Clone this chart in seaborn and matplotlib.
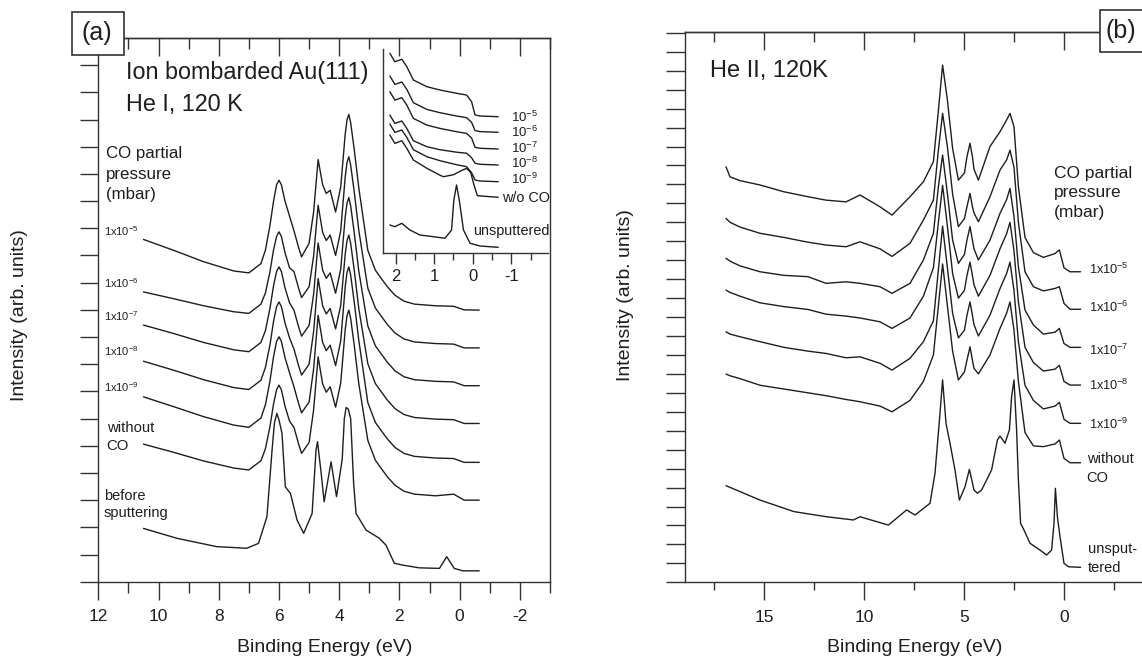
import matplotlib
matplotlib.use("Agg")
import matplotlib.pyplot as plt
import seaborn as sns
from matplotlib.patches import Rectangle
from matplotlib.ticker import MultipleLocator

# ---------------- panel (a): He I, ion bombarded Au(111) ----------------
be_a = [10.5, 9.5, 8.5, 7.5, 7.0, 6.6, 6.45, 6.3, 6.18, 6.08, 6.0, 5.92, 5.8, 5.65, 5.5, 5.35, 5.25, 5.0,
        4.85, 4.7, 4.55, 4.43, 4.3, 4.12, 3.95, 3.8, 3.74, 3.68, 3.62, 3.5, 3.35, 3.05, 2.8, 2.6, 2.4, 2.15,
        1.85, 1.5, 0.8, 0.2, -0.15, -0.65]
a_1e5 = [12.59, 12.19, 11.77, 11.43, 11.36, 11.70, 12.20, 13.10, 14.00, 14.60, 14.77, 14.60, 14.00, 13.45,
         12.90, 12.30, 11.95, 12.45, 13.60, 15.53, 14.60, 14.28, 14.40, 13.60, 14.52, 16.47, 16.99, 17.19,
         16.89, 15.89, 14.49, 12.19, 11.46, 11.15, 10.85, 10.54, 10.32, 10.21, 10.15, 10.13, 10.00, 9.99]
a_1e6 = [10.66, 10.41, 10.15, 9.93, 9.87, 10.21, 10.62, 11.40, 12.21, 12.70, 12.87, 12.70, 12.10, 11.55,
         11.40, 10.80, 10.45, 10.85, 11.98, 13.85, 12.85, 12.55, 12.75, 12.00, 12.91, 14.90, 15.43, 15.63,
         15.33, 14.33, 12.93, 10.80, 10.07, 9.76, 9.46, 9.15, 8.93, 8.82, 8.76, 8.74, 8.60, 8.60]
a_1e7 = [9.44, 9.13, 8.80, 8.53, 8.46, 8.80, 9.24, 10.05, 10.89, 11.41, 11.58, 11.41, 10.81, 10.26,
         9.98, 9.38, 9.03, 9.43, 10.57, 12.46, 11.46, 11.16, 11.36, 10.61, 11.49, 13.43, 13.93, 14.13,
         13.83, 12.83, 11.43, 9.41, 8.68, 8.37, 8.07, 7.76, 7.54, 7.43, 7.37, 7.35, 7.21, 7.21]
a_1e8 = [8.11, 7.78, 7.43, 7.14, 7.07, 7.41, 7.88, 8.71, 9.58, 10.12, 10.29, 10.12, 9.52, 8.97,
         8.55, 7.95, 7.60, 8.00, 9.20, 11.15, 10.15, 9.85, 10.05, 9.30, 10.16, 12.06, 12.55, 12.75,
         12.45, 11.45, 10.05, 8.02, 7.29, 6.98, 6.68, 6.37, 6.15, 6.04, 5.98, 5.96, 5.82, 5.82]
a_1e9 = [6.80, 6.44, 6.07, 5.76, 5.68, 6.02, 6.51, 7.38, 8.28, 8.84, 9.01, 8.84, 8.24, 7.69,
         7.16, 6.56, 6.21, 6.61, 7.83, 9.80, 8.80, 8.50, 8.70, 7.95, 8.86, 10.85, 11.38, 11.58,
         11.28, 10.28, 8.88, 6.59, 5.86, 5.55, 5.25, 4.94, 4.72, 4.61, 4.55, 4.53, 4.39, 4.39]
a_noco = [5.06, 4.76, 4.44, 4.18, 4.11, 4.45, 4.89, 5.70, 6.54, 7.06, 7.23, 7.06, 6.46, 5.91,
          5.67, 5.07, 4.72, 5.12, 6.32, 8.27, 7.27, 6.97, 7.17, 6.42, 7.31, 9.28, 9.79, 9.99,
          9.69, 8.69, 7.29, 5.20, 4.47, 4.16, 3.86, 3.55, 3.33, 3.22, 3.16, 3.22, 3.00, 3.00]
be_a_before = [10.5, 9.4, 8.07, 7.07, 6.68, 6.40, 6.23, 6.15, 6.07, 6.0, 5.90, 5.79, 5.62, 5.40, 5.18, 4.90,
               4.77, 4.72, 4.60, 4.50, 4.27, 4.09, 3.90, 3.83, 3.77, 3.70, 3.62, 3.52, 3.44, 3.11, 2.67,
               2.45, 2.17, 1.89, 1.34, 0.67, 0.43, 0.18, -0.1, -0.65]
a_before = [1.96, 1.60, 1.29, 1.23, 1.41, 2.39, 4.84, 5.85, 6.19, 5.95, 5.46, 3.49, 3.25, 2.27, 1.78, 2.51,
            4.84, 5.15, 4.00, 2.94, 4.41, 3.13, 4.50, 6.00, 6.41, 6.35, 6.00, 3.60, 2.51, 1.90, 1.60,
            1.35, 0.68, 0.61, 0.51, 0.49, 0.92, 0.49, 0.40, 0.40]
a_labels = ["1x10$^{-5}$", "1x10$^{-6}$", "1x10$^{-7}$", "1x10$^{-8}$", "1x10$^{-9}$"]

# inset of panel (a): region near the Fermi level
ins_x = [2.15, 2.02, 1.84, 1.71, 1.54, 1.19, 0.85, 0.42, 0.16, 0.03, -0.06, -0.19, -0.66]
ins_1e5 = [199.4, 191.0, 193.4, 186.0, 172.7, 166.0, 162.7, 159.4, 157.7, 151.0, 137.7, 136.7, 136.0]
ins_1e6 = [176.7, 168.3, 170.7, 163.3, 150.0, 143.3, 140.0, 136.7, 135.0, 130.4, 122.1, 121.1, 120.4]
ins_1e7 = [161.0, 152.6, 155.0, 147.6, 134.3, 127.6, 124.3, 121.0, 119.3, 114.7, 105.4, 104.4, 103.7]
ins_1e8 = [137.7, 129.3, 131.7, 124.3, 112.0, 106.0, 103.0, 100.5, 99.5, 95.0, 89.4, 88.4, 87.7]
ins_1e9 = [128.7, 120.3, 122.7, 115.3, 103.0, 96.0, 92.0, 88.0, 86.0, 80.0, 72.7, 71.7, 71.0]
ins_noco_x = [2.15, 2.02, 1.84, 1.71, 1.54, 1.19, 0.85, 0.76, 0.5, 0.3, 0.16, 0.05, -0.03, -0.12, -0.66]
ins_noco = [117.7, 109.3, 112.0, 104.3, 92.7, 84.4, 77.5, 76.0, 78.0, 82.0, 84.4, 80.0, 68.0, 57.0, 55.4]
ins_unsp_x = [2.15, 2.02, 1.84, 1.63, 1.37, 1.02, 0.72, 0.55, 0.49, 0.42, 0.35, 0.24, 0.07, -0.19, -0.66]
ins_unsp = [27.7, 26.0, 29.4, 22.7, 17.7, 16.0, 14.4, 22.7, 52.7, 67.7, 52.7, 22.7, 9.4, 6.7, 5.4]
ins_labels = ["10$^{-5}$", "10$^{-6}$", "10$^{-7}$", "10$^{-8}$", "10$^{-9}$"]

# ---------------- panel (b): He II, 120K ----------------
be_b = [16.9, 16.7, 16.2, 15.2, 14.0, 12.8, 11.9, 10.9, 10.2, 9.2, 8.6, 7.7, 7.03, 6.53, 6.28, 6.07, 5.83,
        5.57, 5.28, 4.98, 4.85, 4.7, 4.58, 4.5, 4.28, 3.7, 3.2, 2.87, 2.7, 2.5, 2.28, 1.95, 1.53, 1.03, 0.45,
        0.23, 0.0, -0.3, -0.83]
b_1e5 = [21.93, 21.40, 21.20, 20.97, 20.61, 20.35, 20.17, 20.08, 20.44, 19.82, 19.38, 20.35, 21.14, 22.20,
         24.90, 27.30, 25.45, 22.90, 21.23, 21.60, 22.47, 23.17, 22.47, 21.80, 21.23, 23.00, 23.78, 24.40,
         24.75, 24.04, 20.88, 18.20, 17.40, 17.15, 17.35, 17.54, 16.60, 16.39, 16.39]
b_1e6 = [19.21, 19.00, 18.75, 18.42, 18.20, 17.95, 17.80, 17.71, 17.97, 17.60, 17.20, 17.89, 19.12, 20.17,
         22.81, 24.75, 22.99, 20.50, 18.77, 19.20, 19.83, 20.53, 19.83, 19.50, 19.03, 20.35, 21.76, 22.29,
         22.81, 21.90, 19.00, 16.39, 15.60, 15.38, 15.51, 15.60, 14.72, 14.41, 14.41]
b_1e7 = [17.10, 16.95, 16.70, 16.39, 16.20, 16.13, 15.78, 15.86, 15.78, 15.60, 15.25, 15.78, 17.01, 18.42,
         20.88, 22.55, 20.53, 18.06, 16.83, 17.30, 18.07, 18.77, 18.07, 17.60, 17.01, 18.06, 19.47, 20.20,
         20.79, 19.29, 16.65, 14.37, 13.58, 13.10, 13.20, 13.40, 12.60, 12.40, 12.40]
b_1e8 = [15.42, 15.30, 15.10, 14.75, 14.55, 14.40, 14.15, 14.05, 13.95, 13.75, 13.40, 13.95, 15.10, 16.60,
         19.00, 20.95, 18.80, 16.30, 15.00, 15.40, 16.20, 16.90, 16.20, 15.70, 15.10, 16.20, 17.60, 18.40,
         19.00, 17.50, 14.80, 12.40, 11.60, 11.15, 11.25, 11.45, 10.60, 10.41, 10.41]
b_1e9 = [13.22, 13.10, 12.96, 12.70, 12.40, 12.20, 12.08, 11.85, 11.90, 11.56, 11.20, 11.82, 12.70, 13.80,
         16.50, 18.80, 16.60, 14.20, 12.90, 13.30, 14.10, 14.80, 14.10, 13.60, 13.00, 14.10, 15.50, 16.30,
         16.90, 15.40, 12.70, 10.40, 9.60, 9.15, 9.30, 9.50, 8.60, 8.39, 8.39]
b_noco = [10.99, 10.90, 10.75, 10.40, 10.20, 10.00, 9.85, 9.65, 9.53, 9.30, 9.00, 9.60, 10.60, 12.00,
          14.60, 16.80, 14.60, 12.20, 10.68, 11.10, 11.73, 12.43, 11.73, 11.29, 11.00, 12.00, 13.40, 14.20,
          14.80, 13.30, 10.60, 7.90, 7.20, 7.16, 7.30, 7.51, 6.54, 6.31, 6.31]
be_b_unsp = [16.9, 15.2, 13.5, 11.87, 10.53, 10.2, 8.78, 7.87, 7.45, 6.7, 6.45, 6.2, 6.07, 5.9, 5.7, 5.45,
             5.23, 4.95, 4.73, 4.5, 4.33, 4.12, 3.62, 3.33, 3.2, 2.95, 2.73, 2.62, 2.5, 2.37, 2.28, 2.17,
             2.0, 1.7, 1.2, 0.87, 0.62, 0.5, 0.43, 0.33, 0.2, 0.0, -0.22, -0.83]
b_unsp = [5.10, 4.34, 3.73, 3.46, 3.29, 3.46, 3.02, 3.82, 3.55, 4.17, 5.75, 8.92, 10.68, 8.39, 7.34, 5.93,
          4.34, 5.04, 5.96, 4.87, 4.70, 4.87, 5.93, 7.51, 7.72, 7.34, 8.04, 9.79, 10.68, 8.04, 5.40, 3.11,
          2.76, 2.06, 1.70, 1.44, 1.70, 3.11, 4.96, 3.46, 2.41, 1.00, 0.82, 0.79]

W, H = 1142, 656
INK = "#1e1e1e"
EDGE = "#333333"

sns.set_theme(style="ticks")
plt.rcParams["font.family"] = ["Liberation Sans", "DejaVu Sans"]
plt.rcParams["mathtext.default"] = "regular"
plt.rcParams["axes.unicode_minus"] = False
plt.rcParams["axes.linewidth"] = 1.0
plt.rcParams["axes.edgecolor"] = EDGE
plt.rcParams["xtick.color"] = EDGE
plt.rcParams["ytick.color"] = EDGE
plt.rcParams["xtick.labelcolor"] = INK


def box(l, t, r, b):
    # figure-fraction rectangle from pixel edges
    return [l / W, 1 - b / H, (r - l) / W, (b - t) / H]


def trace(ax, x, y):
    sns.lineplot(x=x, y=y, ax=ax, color=INK, lw=1.0, sort=False, estimator=None)


def frame_ticks(ax, major, minor_step, ymax, ylen, xlen=13, xminor=8, tminor=8):
    ax.set_xticks(major)
    ax.set_xticklabels([f"{m:g}" for m in major])
    ax.xaxis.set_minor_locator(MultipleLocator(minor_step))
    ax.set_yticks(range(0, ymax + 1))
    ax.tick_params(axis="x", which="major", direction="out", length=xlen, width=1.0, pad=7, labelsize=12.5,
                   top=False)
    ax.tick_params(axis="x", which="minor", direction="out", length=xminor, width=1.0, top=False)
    ax.tick_params(axis="y", which="major", direction="out", length=ylen, width=1.0, labelleft=False,
                   right=False)
    sec = ax.secondary_xaxis("top")
    sec.set_xticks(major)
    sec.xaxis.set_minor_locator(MultipleLocator(minor_step))
    sec.tick_params(axis="x", which="major", direction="in", length=xlen, width=1.0, labeltop=False)
    sec.tick_params(axis="x", which="minor", direction="in", length=tminor, width=1.0)
    ax.set_xlabel("")
    ax.set_ylabel("")


fig = plt.figure(figsize=(W / 100, H / 100), dpi=100)

# ---------- (a) ----------
ax_a = fig.add_axes(box(98.3, 38, 550, 581.7))
for ys in [a_1e5, a_1e6, a_1e7, a_1e8, a_1e9, a_noco]:
    trace(ax_a, be_a, ys)
trace(ax_a, be_a_before, a_before)
ax_a.set_xlim(12, -3.0)
ax_a.set_ylim(0, 20)
frame_ticks(ax_a, [12, 10, 8, 6, 4, 2, 0, -2], 1, 20, 13)

ax_a.text(11.08, 18.48, "Ion bombarded Au(111)", fontsize=16.8, color=INK)
ax_a.text(11.08, 17.31, "He I, 120 K", fontsize=16.8, color=INK)
for yy, s in zip([15.57, 14.81, 14.08], ["CO partial", "pressure", "(mbar)"]):
    ax_a.text(11.74, yy, s, fontsize=12.2, color=INK)
for yy, s in zip([12.71, 10.80, 9.60, 8.30, 6.99], a_labels):
    ax_a.text(11.82, yy, s, fontsize=8, color=INK)
ax_a.text(11.72, 5.51, "without", fontsize=10.7, color=INK)
ax_a.text(11.72, 4.84, "CO", fontsize=10.7, color=INK)
ax_a.text(11.81, 3.00, "before", fontsize=10.5, color=INK)
ax_a.text(11.81, 2.39, "sputtering", fontsize=10.5, color=INK)

# inset
ax_in = fig.add_axes(box(383.3, 49.3, 548.3, 252.7))
ax_in.set_facecolor("none")
for ys in [ins_1e5, ins_1e6, ins_1e7, ins_1e8, ins_1e9]:
    trace(ax_in, ins_x, ys)
trace(ax_in, ins_noco_x, ins_noco)
trace(ax_in, ins_unsp_x, ins_unsp)
ax_in.set_xlim(2.32, -1.96)
ax_in.set_ylim(0, 203.4)
ax_in.spines[["top", "right"]].set_visible(False)
ax_in.set_xticks([2, 1, 0, -1])
ax_in.set_xticklabels(["2", "1", "0", "-1"])
ax_in.xaxis.set_minor_locator(MultipleLocator(0.5))
ax_in.set_yticks([])
ax_in.tick_params(axis="x", which="major", direction="out", length=8, width=1.0, pad=4, labelsize=12)
ax_in.tick_params(axis="x", which="minor", direction="out", length=5, width=1.0)
ax_in.set_xlabel("")
ax_in.set_ylabel("")
for yy, s in zip([131, 115.4, 100, 84.4, 68.4], ins_labels):
    ax_in.text(-1.0, yy, s, fontsize=9.5, color=INK)
ax_in.text(-0.75, 51, "w/o CO", fontsize=10.4, color=INK)
ax_in.text(0.0, 17.7, "unsputtered", fontsize=10.4, color=INK)

# ---------- (b) ----------
ax_b = fig.add_axes(box(685, 31.7, 1142, 582.3))
for ys in [b_1e5, b_1e6, b_1e7, b_1e8, b_1e9, b_noco]:
    trace(ax_b, be_b, ys)
trace(ax_b, be_b_unsp, b_unsp)
ax_b.set_xlim(18.95, -3.9)
ax_b.set_ylim(0, 29.06)
ax_b.spines["right"].set_visible(False)
frame_ticks(ax_b, [15, 10, 5, 0], 2.5, 29, 14, xminor=6, tminor=7)

ax_b.text(17.7, 26.65, "He II, 120K", fontsize=17, color=INK)
for yy, s in zip([21.32, 20.35, 19.29], ["CO partial", "pressure", "(mbar)"]):
    ax_b.text(0.5, yy, s, fontsize=12.5, color=INK)
for yy, s in zip([16.27, 14.28, 11.99, 10.15, 8.07], a_labels):
    ax_b.text(-1.27, yy, s, fontsize=9.2, color=INK)
ax_b.text(-1.13, 6.31, "without", fontsize=10.5, color=INK)
ax_b.text(-1.13, 5.31, "CO", fontsize=10.5, color=INK)
ax_b.text(-1.21, 1.53, "unsput-", fontsize=10.5, color=INK)
ax_b.text(-1.21, 0.56, "tered", fontsize=10.5, color=INK)

# ---------- axis titles ----------
fig.text(20 / W, 1 - 315 / H, "Intensity (arb. units)", rotation=90, ha="center", va="center",
         fontsize=14, color=INK)
fig.text(625 / W, 1 - 295 / H, "Intensity (arb. units)", rotation=90, ha="center", va="center",
         fontsize=14, color=INK)
fig.text(324.5 / W, 1 - 652 / H, "Binding Energy (eV)", ha="center", va="baseline", fontsize=14, color=INK)
fig.text(915 / W, 1 - 652 / H, "Binding Energy (eV)", ha="center", va="baseline", fontsize=14, color=INK)

# ---------- panel tags ----------
for (l, t, r, b), tag, cx in [((71.7, 11.7, 124, 55), "(a)", 96.5), ((1100, 10, 1160, 51.7), "(b)", 1121)]:
    fig.add_artist(Rectangle((l / W, 1 - b / H), (r - l) / W, (b - t) / H, transform=fig.transFigure,
                             facecolor="white", edgecolor=EDGE, lw=1.2, zorder=5))
    fig.text(cx / W, 1 - (t + b) / 2 / H, tag, ha="center", va="center", fontsize=18, color=INK, zorder=6)

fig.savefig("out.png", dpi=100)
